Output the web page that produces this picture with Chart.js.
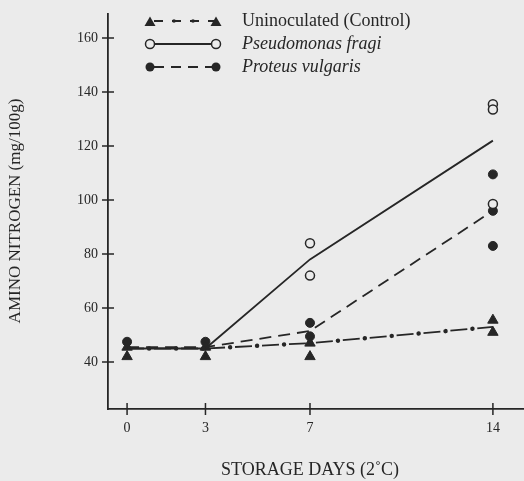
<!DOCTYPE html>
<html>
<head>
<meta charset="utf-8">
<script src="https://cdn.jsdelivr.net/npm/chart.js@4/dist/chart.umd.min.js"></script>
<style>
html,body{margin:0;padding:0;background:#ebebeb;}
#wrap{width:524px;height:481px;position:relative;}
</style>
</head>
<body>
<div id="wrap"><canvas id="c" width="524" height="481"></canvas></div>
<script>
// ---- data ----
const xTicks = [0, 3, 7, 14];
const yTicks = [40, 60, 80, 100, 120, 140, 160];
const lineDays = [0, 3, 7, 14];
const controlLine = [45, 45, 47, 53];
const pseudoLine = [45, 45, 78, 122];
const proteusLine = [45.5, 45.5, 51.5, 96];
const controlPtDays = [0, 0, 3, 3, 7, 7, 14, 14];
const controlPtVals = [42, 45.5, 42, 45.5, 42, 47, 55.5, 51];
const pseudoPtDays = [7, 7, 14, 14, 14];
const pseudoPtVals = [84, 72, 135.5, 133.5, 98.5];
const proteusPtDays = [0, 3, 7, 7, 14, 14, 14];
const proteusPtVals = [47.5, 47.5, 54.5, 49.5, 109.5, 96, 83];
const legendLabels = ['Uninoculated (Control)', 'Pseudomonas fragi', 'Proteus vulgaris'];
const xTitle = 'STORAGE DAYS (2\u02daC)';
const yTitle = 'AMINO NITROGEN (mg/100g)';

const INK = '#262626';
const BG = '#ebebeb';
const FONT = "'Liberation Serif', 'DejaVu Serif', serif";

const pts = (d, v) => d.map((x, i) => ({x, y: v[i]}));

const decor = {
  id: 'decor',
  beforeDraw(chart) {
    const ctx = chart.ctx;
    ctx.save();
    ctx.fillStyle = BG;
    ctx.fillRect(0, 0, chart.width, chart.height);
    ctx.restore();
  },
  afterDraw(chart) {
    const ctx = chart.ctx;
    const xs = chart.scales.x, ys = chart.scales.y;
    ctx.save();
    ctx.strokeStyle = INK;
    ctx.lineWidth = 1.5;
    // crossing ticks
    ctx.beginPath();
    yTicks.forEach(v => {
      const p = ys.getPixelForValue(v);
      ctx.moveTo(xs.left - 6, p); ctx.lineTo(xs.left + 6, p);
    });
    xTicks.forEach(v => {
      const p = xs.getPixelForValue(v);
      ctx.moveTo(p, ys.bottom - 6); ctx.lineTo(p, ys.bottom + 6);
    });
    ctx.stroke();
    // x tick labels
    ctx.fillStyle = INK;
    ctx.font = '14px ' + FONT;
    ctx.textAlign = 'center';
    ctx.textBaseline = 'middle';
    xTicks.forEach(v => {
      ctx.fillText(String(v), xs.getPixelForValue(v), ys.bottom + 19);
    });
    // titles
    ctx.font = '18px ' + FONT;
    ctx.fillText(xTitle, 310, 470);
    ctx.save();
    ctx.translate(16, 211);
    ctx.rotate(-Math.PI / 2);
    ctx.font = '17px ' + FONT;
    ctx.fillText(yTitle, 0, 0);
    ctx.restore();
    // legend
    const rows = [21, 44, 67];
    const x1 = 150, x2 = 216;
    const tri = (x, y) => {
      ctx.beginPath();
      ctx.moveTo(x, y - 5.5); ctx.lineTo(x + 5.5, y + 4); ctx.lineTo(x - 5.5, y + 4); ctx.closePath();
      ctx.fillStyle = INK; ctx.fill();
    };
    const circ = (x, y, open) => {
      ctx.beginPath(); ctx.arc(x, y, 4.5, 0, Math.PI * 2);
      if (open) { ctx.fillStyle = BG; ctx.fill(); ctx.lineWidth = 1.5; ctx.strokeStyle = INK; ctx.stroke(); }
      else { ctx.fillStyle = INK; ctx.fill(); }
    };
    ctx.lineWidth = 1.8;
    ctx.strokeStyle = INK;
    // row 1: dash-dot
    ctx.setLineDash([9, 9]); ctx.lineDashOffset = -4;
    ctx.beginPath(); ctx.moveTo(x1, rows[0]); ctx.lineTo(x2, rows[0]); ctx.stroke();
    ctx.setLineDash([]);
    [174, 193].forEach(x => { ctx.beginPath(); ctx.arc(x, rows[0], 1.8, 0, Math.PI * 2); ctx.fillStyle = INK; ctx.fill(); });
    tri(x1, rows[0] + 1); tri(x2, rows[0] + 1);
    // row 2: solid
    ctx.lineWidth = 1.8;
    ctx.beginPath(); ctx.moveTo(x1, rows[1]); ctx.lineTo(x2, rows[1]); ctx.stroke();
    circ(x1, rows[1], true); circ(x2, rows[1], true);
    // row 3: dashed
    ctx.lineWidth = 1.8;
    ctx.setLineDash([10, 7]); ctx.lineDashOffset = 0;
    ctx.beginPath(); ctx.moveTo(x1 + 4, rows[2]); ctx.lineTo(x2, rows[2]); ctx.stroke();
    ctx.setLineDash([]);
    circ(x1, rows[2], false); circ(x2, rows[2], false);
    ctx.fillStyle = INK;
    ctx.textAlign = 'left';
    ctx.font = '18px ' + FONT;
    ctx.fillText(legendLabels[0], 242, rows[0]);
    ctx.font = 'italic 18px ' + FONT;
    ctx.fillText(legendLabels[1], 242, rows[1]);
    ctx.fillText(legendLabels[2], 242, rows[2]);
    ctx.restore();
  }
};

new Chart(document.getElementById('c'), {
  type: 'scatter',
  data: {
    datasets: [
      { data: pts(lineDays, controlLine), showLine: true, pointRadius: 0, borderColor: INK, borderWidth: 1.8, borderDash: [17, 10], fill: false },
      { data: pts(lineDays, controlLine), showLine: true, pointRadius: 0, borderColor: INK, borderWidth: 4.5, borderDash: [0.01, 27], borderDashOffset: 5, borderCapStyle: 'round', fill: false },
      { data: pts(lineDays, pseudoLine), showLine: true, pointRadius: 0, borderColor: INK, borderWidth: 1.8, fill: false },
      { data: pts(lineDays, proteusLine), showLine: true, pointRadius: 0, borderColor: INK, borderWidth: 1.8, borderDash: [12, 7], fill: false },
      { data: pts(controlPtDays, controlPtVals), showLine: false, pointStyle: 'triangle', pointRadius: 6, backgroundColor: INK, borderColor: INK, borderWidth: 1 },
      { data: pts(pseudoPtDays, pseudoPtVals), showLine: false, pointStyle: 'circle', pointRadius: 4.5, backgroundColor: BG, borderColor: INK, borderWidth: 1.5 },
      { data: pts(proteusPtDays, proteusPtVals), showLine: false, pointStyle: 'circle', pointRadius: 4.5, backgroundColor: INK, borderColor: INK, borderWidth: 1 }
    ]
  },
  options: {
    responsive: false,
    animation: false,
    events: [],
    layout: { autoPadding: false, padding: { top: 14, left: 0, right: 0, bottom: 0 } },
    plugins: { legend: { display: false }, tooltip: { enabled: false } },
    scales: {
      x: {
        type: 'linear', min: -0.73, max: 15.19,
        afterBuildTicks: s => { s.ticks = xTicks.map(v => ({ value: v })); },
        afterFit: s => { s.height = 72; s.paddingLeft = 0; s.paddingRight = 0; },
        grid: { display: false, drawTicks: false },
        border: { display: true, color: INK, width: 1.8 },
        ticks: { display: false }
      },
      y: {
        type: 'linear', min: 22.6, max: 168.9,
        afterBuildTicks: s => { s.ticks = yTicks.map(v => ({ value: v })); },
        afterFit: s => { s.width = 108; s.paddingTop = 0; s.paddingBottom = 0; },
        grid: { display: false, drawTicks: false },
        border: { display: true, color: INK, width: 1.8 },
        ticks: { color: INK, font: { family: FONT, size: 14 }, padding: 10, autoSkip: false }
      }
    }
  },
  plugins: [decor]
});
</script>
</body>
</html>
